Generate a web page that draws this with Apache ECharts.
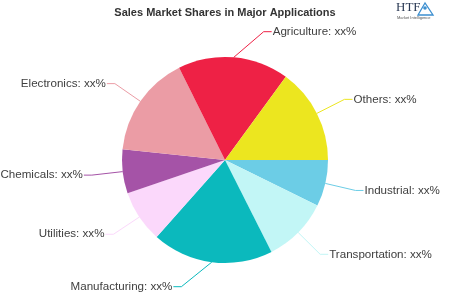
<!DOCTYPE html>
<html>
<head>
<meta charset="utf-8">
<script src="https://cdn.jsdelivr.net/npm/echarts@6/dist/echarts.min.js"></script>
<style>
html,body{margin:0;padding:0;background:#fff;}
#chart{width:450px;height:300px;}
</style>
</head>
<body>
<div id="chart"></div>
<script>
const categories = ['Industrial', 'Transportation', 'Manufacturing', 'Utilities', 'Chemicals', 'Electronics', 'Agriculture', 'Others'];
const shares = [7.3, 10.25, 19.0, 8.2, 6.9, 16.0, 17.4, 14.95];
const shareLabel = 'xx%';
const colors = ['#6ccde6', '#c2f6f6', '#0bb9bd', '#fbd8fb', '#a553a7', '#eb9ca5', '#ee2145', '#ece61f'];
const titleText = 'Sales Market Shares in Major Applications';

// pie geometry / label-line styling
const CX = 225, CY = 160, RADIUS = 103, LEN = 31, LEN2 = 8, GAP = 1;
const LABEL_Y_MIN = 31.7, LABEL_Y_MAX = 286.7;

function layoutLabel(params) {
  const pts = params.labelLinePoints;
  if (!pts || pts.length < 2) return {};
  const p0 = pts[0];
  const a = Math.atan2(p0[1] - CY, p0[0] - CX);
  const R = RADIUS + LEN;
  const dir = Math.cos(a) >= 0 ? 1 : -1;
  let y = CY + R * Math.sin(a);
  let x = CX + R * Math.cos(a);
  const yc = Math.min(LABEL_Y_MAX, Math.max(LABEL_Y_MIN, y));
  if (yc !== y) {
    const dy = yc - CY;
    x = CX + dir * Math.sqrt(Math.max(0, R * R - dy * dy));
    y = yc;
  }
  const x2 = x + dir * LEN2;
  return {
    x: x2 + dir * GAP,
    y: y,
    align: dir > 0 ? 'left' : 'right',
    verticalAlign: 'middle',
    labelLinePoints: [[p0[0], p0[1]], [x, y], [x2, y]]
  };
}

const chart = echarts.init(document.getElementById('chart'), null, {renderer: 'canvas'});
chart.setOption({
  animation: false,
  backgroundColor: '#ffffff',
  color: colors,
  title: {
    text: titleText,
    left: 'center',
    top: 2,
    textStyle: {
      fontFamily: 'Liberation Sans',
      fontWeight: 'bold',
      fontSize: 11,
      color: '#333333'
    }
  },
  graphic: [
    {type: 'text', left: 396, top: 1, style: {text: 'HTF', font: '13px "Liberation Serif"', fill: '#2b3a55'}},
    {type: 'polygon', shape: {points: [[425, 3], [418, 15], [433, 15]]}, style: {fill: 'none', stroke: '#3c8fd0', lineWidth: 1.3}},
    {type: 'circle', shape: {cx: 425, cy: 8, r: 1.8}, style: {fill: '#3c8fd0'}},
    {type: 'text', left: 397, top: 16, style: {text: 'Market Intelligence', font: '4px sans-serif', fill: '#555'}}
  ],
  series: [{
    type: 'pie',
    center: [CX, CY],
    radius: RADIUS,
    startAngle: 0,
    clockwise: true,
    avoidLabelOverlap: true,
    data: categories.map((c, i) => ({name: c, value: shares[i]})),
    label: {
      formatter: '{b}: ' + shareLabel,
      fontFamily: 'Liberation Sans',
      fontSize: 11.6,
      color: '#404040',
      overflow: 'none',
      distanceToLabelLine: GAP
    },
    labelLine: {
      length: LEN,
      length2: LEN2,
      lineStyle: {width: 1}
    },
    labelLayout: layoutLabel,
    itemStyle: {borderWidth: 0}
  }]
});
</script>
</body>
</html>
